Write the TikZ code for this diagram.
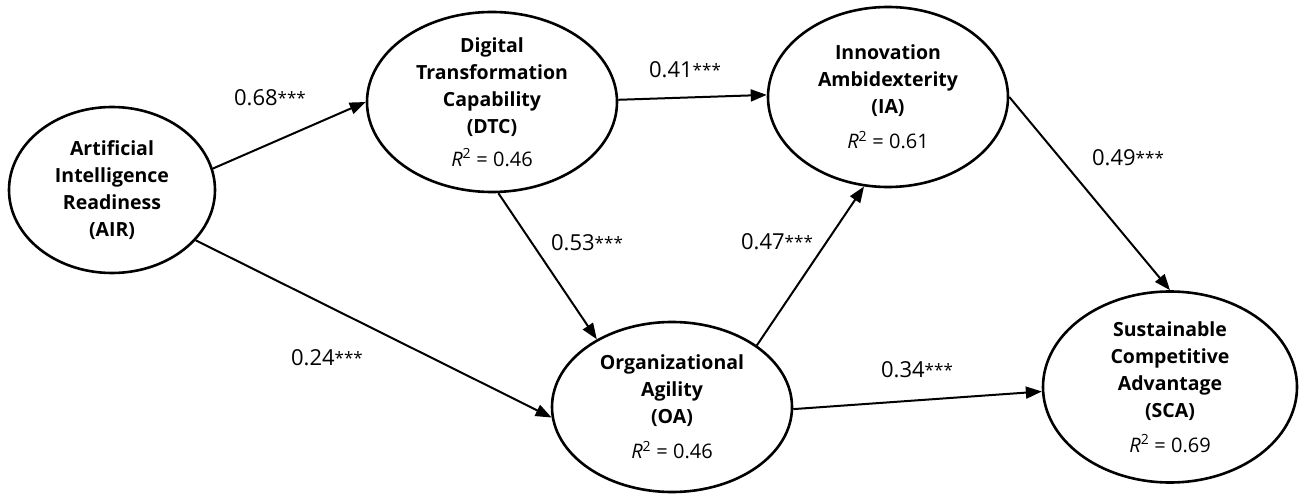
\documentclass[tikz,border=0pt]{standalone}
\usepackage{fontspec}
\setmainfont{Open Sans}
\usetikzlibrary{shapes.geometric,arrows.meta}
% coefficient of determination line inside a construct
\newcommand{\rsqtext}[1]{{\fontsize{20}{26}\selectfont\mdseries\textit{R}\textsuperscript{2} = #1}}
% path coefficient with significance stars
\newcommand{\pcoef}[1]{#1\raisebox{1.5pt}{\fontsize{17}{17}\selectfont ***}}
\begin{document}
\begin{tikzpicture}[x=1pt,y=-1pt,
  construct/.style={ellipse, draw, line width=2.6pt, inner sep=0pt},
  ctext/.style={align=center, inner sep=0pt, font=\fontsize{19.5}{27}\selectfont\bfseries},
  patharrow/.style={line width=2pt, -{Triangle[length=16pt,width=12pt]}},
  coef/.style={font=\fontsize{22}{22}\selectfont, inner sep=0pt}]
\useasboundingbox (0,0) rectangle (1303,494);

% latent constructs
\node[construct, minimum width=206pt, minimum height=166pt] (AIR) at (112,190) {};
\node[construct, minimum width=250pt, minimum height=180pt] (DTC) at (492,102) {};
\node[construct, minimum width=240pt, minimum height=180pt] (IA)  at (888,97)  {};
\node[construct, minimum width=240pt, minimum height=170pt] (OA)  at (672,407) {};
\node[construct, minimum width=254pt, minimum height=191pt] (SCA) at (1170,387) {};

% construct labels
\node[ctext] (AIRt) at (AIR.center) {Artificial\\Intelligence\\Readiness\\(AIR)};
\node[ctext] (DTCt) at (DTC.center) {Digital\\Transformation\\Capability\\(DTC)\\[6pt]\rsqtext{0.46}};
\node[ctext] (IAt)  at (IA.center)  {Innovation\\Ambidexterity\\(IA)\\[8pt]\rsqtext{0.61}};
\node[ctext] (OAt)  at (OA.center)  {Organizational\\Agility\\(OA)\\[8pt]\rsqtext{0.46}};
\node[ctext] (SCAt) at (SCA.center) {Sustainable\\Competitive\\Advantage\\(SCA)\\[8pt]\rsqtext{0.69}};

% structural paths
\draw[patharrow] (AIR.12)   -- (DTC.180);
\draw[patharrow] (AIR.-31)  -- (OA.185);
\draw[patharrow] (DTC.-86)  -- (OA.138);
\draw[patharrow] (DTC.1)    -- (IA.179);
\draw[patharrow] (OA.36)    -- (IA.255);
\draw[patharrow] (OA.-1.5)  -- (SCA.182.7);
\draw[patharrow] (IA.0)     -- (SCA.90);

% path coefficients
\node[coef] (c1) at (270,98)   {\pcoef{0.68}};
\node[coef] (c2) at (327,358)  {\pcoef{0.24}};
\node[coef] (c3) at (587,243)  {\pcoef{0.53}};
\node[coef] (c4) at (685,70)   {\pcoef{0.41}};
\node[coef] (c5) at (777,242)  {\pcoef{0.47}};
\node[coef] (c6) at (917,370)  {\pcoef{0.34}};
\node[coef] (c7) at (1128,158) {\pcoef{0.49}};
\end{tikzpicture}
\end{document}
